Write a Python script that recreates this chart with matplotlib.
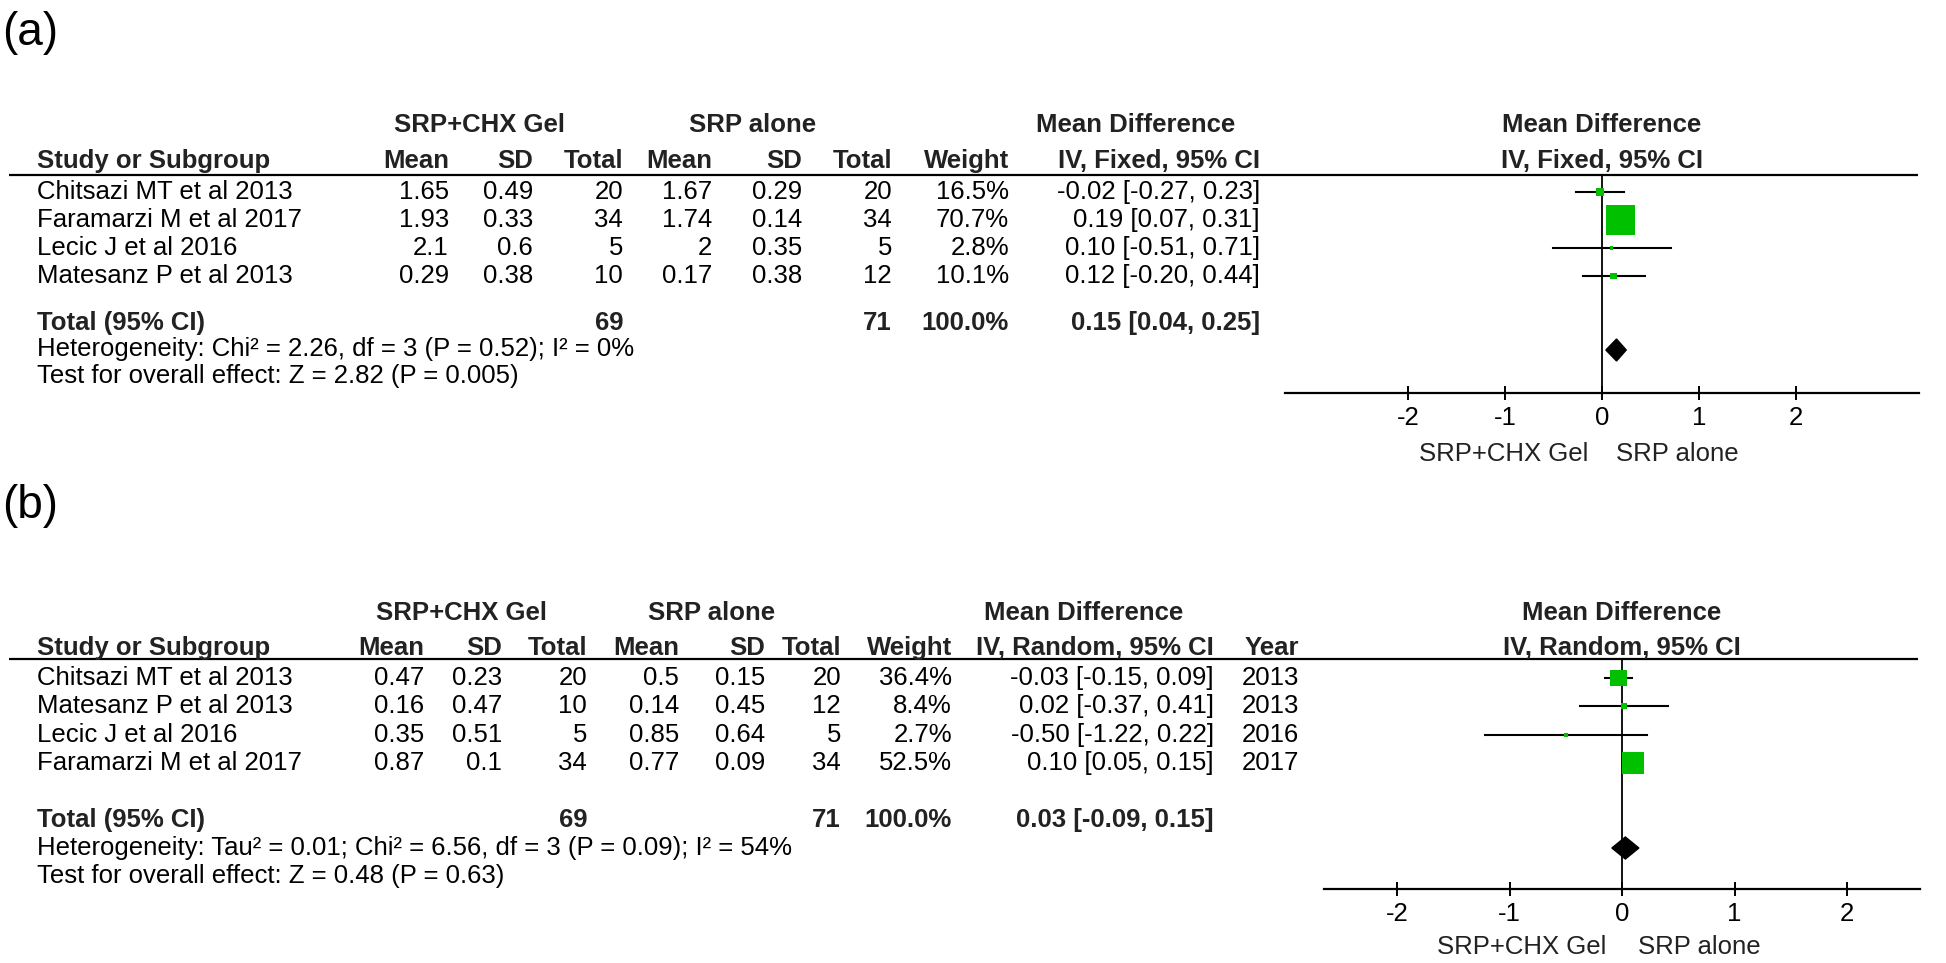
import matplotlib
matplotlib.use("Agg")
import matplotlib.pyplot as plt
from matplotlib.patches import Rectangle, Polygon

plt.rcParams['font.family'] = ['Liberation Sans', 'DejaVu Sans']

W, H = 1946, 963
FS = 18.5
GREEN = '#00c000'

# ---- panel (a) data: fixed effect ----
studies_a = ["Chitsazi MT et al 2013", "Faramarzi M et al 2017", "Lecic J et al 2016", "Matesanz P et al 2013"]
chx_mean_a = [1.65, 1.93, 2.1, 0.29]
chx_sd_a = [0.49, 0.33, 0.6, 0.38]
chx_n_a = [20, 34, 5, 10]
srp_mean_a = [1.67, 1.74, 2, 0.17]
srp_sd_a = [0.29, 0.14, 0.35, 0.38]
srp_n_a = [20, 34, 5, 12]
weight_a = [16.5, 70.7, 2.8, 10.1]
md_a = [-0.02, 0.19, 0.10, 0.12]
lo_a = [-0.27, 0.07, -0.51, -0.20]
hi_a = [0.23, 0.31, 0.71, 0.44]
total_n_a = [69, 71]
total_weight_a = 100.0
total_md_a = [0.15, 0.04, 0.25]
het_a = "Heterogeneity: Chi² = 2.26, df = 3 (P = 0.52); I² = 0%"
test_a = "Test for overall effect: Z = 2.82 (P = 0.005)"

# ---- panel (b) data: random effects ----
studies_b = ["Chitsazi MT et al 2013", "Matesanz P et al 2013", "Lecic J et al 2016", "Faramarzi M et al 2017"]
chx_mean_b = [0.47, 0.16, 0.35, 0.87]
chx_sd_b = [0.23, 0.47, 0.51, 0.1]
chx_n_b = [20, 10, 5, 34]
srp_mean_b = [0.5, 0.14, 0.85, 0.77]
srp_sd_b = [0.15, 0.45, 0.64, 0.09]
srp_n_b = [20, 12, 5, 34]
weight_b = [36.4, 8.4, 2.7, 52.5]
md_b = [-0.03, 0.02, -0.50, 0.10]
lo_b = [-0.15, -0.37, -1.22, 0.05]
hi_b = [0.09, 0.41, 0.22, 0.15]
years_b = [2013, 2013, 2016, 2017]
total_n_b = [69, 71]
total_weight_b = 100.0
total_md_b = [0.03, -0.09, 0.15]
het_b = "Heterogeneity: Tau² = 0.01; Chi² = 6.56, df = 3 (P = 0.09); I² = 54%"
test_b = "Test for overall effect: Z = 0.48 (P = 0.63)"

ticks = [-2, -1, 0, 1, 2]
group1, group2 = "SRP+CHX Gel", "SRP alone"

fig = plt.figure(figsize=(W / 100, H / 100), dpi=100)
bg = fig.add_axes([0, 0, 1, 1])
bg.set_xlim(0, W)
bg.set_ylim(H, 0)
bg.axis('off')


def txt(x, y, s, ha='right', bold=False):
    bg.text(x, y, s, ha=ha, va='center', fontsize=FS,
            fontweight='bold' if bold else 'normal',
            color='#222222' if bold else 'black')


def panel(tag, lay, method, studies, m1, s1, n1, m2, s2, n2, wt, md, lo, hi,
          tot_n, tot_w, tot_md, het, test, years=None):
    r = lay['right']
    bg.text(2, lay['label_y'], tag, ha='left', va='center', fontsize=33)
    # group headers
    txt(lay['g1'], lay['grp_y'], group1, ha='center', bold=True)
    txt(lay['g2'], lay['grp_y'], group2, ha='center', bold=True)
    txt(lay['g3'], lay['grp_y'], "Mean Difference", ha='center', bold=True)
    # column headers
    txt(37, lay['hdr_y'], "Study or Subgroup", ha='left', bold=True)
    heads = ["Mean", "SD", "Total", "Mean", "SD", "Total", "Weight", f"IV, {method}, 95% CI"]
    for x, h in zip(r, heads):
        txt(x, lay['hdr_y'], h, bold=True)
    if years is not None:
        txt(lay['year'], lay['hdr_y'], "Year", bold=True)
    bg.hlines(lay['rule_y'], 9, 1918, color='black', lw=1.6)
    # study rows
    for i, y in enumerate(lay['rows']):
        cells = [f"{m1[i]:g}", f"{s1[i]:g}", f"{n1[i]}", f"{m2[i]:g}", f"{s2[i]:g}",
                 f"{n2[i]}", f"{wt[i]:.1f}%", f"{md[i]:.2f} [{lo[i]:.2f}, {hi[i]:.2f}]"]
        txt(37, y, studies[i], ha='left')
        for x, c in zip(r, cells):
            txt(x, y, c)
        if years is not None:
            txt(lay['year'], y, f"{years[i]}")
    # total row
    ty = lay['tot_y']
    txt(37, ty, "Total (95% CI)", ha='left', bold=True)
    txt(r[2], ty, f"{tot_n[0]}", bold=True)
    txt(r[5], ty, f"{tot_n[1]}", bold=True)
    txt(r[6], ty, f"{tot_w:.1f}%", bold=True)
    txt(r[7], ty, f"{tot_md[0]:.2f} [{tot_md[1]:.2f}, {tot_md[2]:.2f}]", bold=True)
    txt(37, lay['het_y'], het, ha='left')
    txt(37, lay['test_y'], test, ha='left')

    # forest plot axes: x in mean-difference units, y in pixel rows
    x0, x1 = 1270, W
    y0, y1 = lay['grp_y'] - 20, lay['dir_y'] + 20
    zero, unit = lay['zero'], lay['unit']
    ax = fig.add_axes([x0 / W, 1 - y1 / H, (x1 - x0) / W, (y1 - y0) / H])
    ax.set_xlim((x0 - zero) / unit, (x1 - zero) / unit)
    ax.set_ylim(y1, y0)
    ax.patch.set_visible(False)
    for s in ['left', 'right', 'top']:
        ax.spines[s].set_visible(False)
    ax.spines['bottom'].set_position(('data', lay['axis_y']))
    ax.spines['bottom'].set_bounds(-lay['span'], lay['span'])
    ax.spines['bottom'].set_linewidth(1.6)
    ax.set_yticks([])
    ax.set_xticks(ticks)
    ax.set_xticklabels([f"{t}" for t in ticks], fontsize=FS)
    ax.tick_params(axis='x', direction='inout', length=10, width=1.4, pad=4)

    ax.text(0, lay['grp_y'], "Mean Difference", ha='center', va='center',
            fontsize=FS, fontweight='bold', color='#222222')
    ax.text(0, lay['hdr_y'], f"IV, {method}, 95% CI", ha='center', va='center',
            fontsize=FS, fontweight='bold', color='#222222')
    ax.plot([0, 0], [lay['rule_y'], lay['axis_y']], color='black', lw=1.3)

    for i, y in enumerate(lay['rows']):
        ax.plot([lo[i], hi[i]], [y, y], color='black', lw=1.5, zorder=2)
        side = 2.5 + 0.38 * wt[i]
        ax.add_patch(Rectangle((md[i] - side / 2 / unit, y - side / 2), side / unit, side,
                               facecolor=GREEN, edgecolor='none', zorder=3))
    hd = 11
    dy = lay['dia_y']
    ax.add_patch(Polygon([(tot_md[1], dy), (tot_md[0], dy - hd), (tot_md[2], dy), (tot_md[0], dy + hd)],
                         closed=True, facecolor='black', edgecolor='black', zorder=3))
    ax.text(-0.14, lay['dir_y'], group1, ha='right', va='center', fontsize=FS, color='#222222')
    ax.text(0.14, lay['dir_y'], group2, ha='left', va='center', fontsize=FS, color='#222222')


lay_a = dict(label_y=33, grp_y=125, hdr_y=161, rule_y=175, rows=[192, 220, 248, 276],
             tot_y=323, dia_y=350, het_y=349, test_y=376, axis_y=393, dir_y=454,
             right=[449, 533, 623, 712, 802, 892, 1009, 1260],
             g1=480, g2=753, g3=1136, zero=1602, unit=96.9, span=3.27)
lay_b = dict(label_y=506, grp_y=613, hdr_y=648, rule_y=659, rows=[678, 706, 735, 763],
             tot_y=820, dia_y=848, het_y=848, test_y=876, axis_y=889, dir_y=947,
             right=[424, 502, 587, 679, 765, 841, 952, 1214], year=1299,
             g1=462, g2=712, g3=1084, zero=1622, unit=112.5, span=2.65)

panel("(a)", lay_a, "Fixed", studies_a, chx_mean_a, chx_sd_a, chx_n_a, srp_mean_a, srp_sd_a,
      srp_n_a, weight_a, md_a, lo_a, hi_a, total_n_a, total_weight_a, total_md_a, het_a, test_a)
panel("(b)", lay_b, "Random", studies_b, chx_mean_b, chx_sd_b, chx_n_b, srp_mean_b, srp_sd_b,
      srp_n_b, weight_b, md_b, lo_b, hi_b, total_n_b, total_weight_b, total_md_b, het_b, test_b,
      years=years_b)

fig.savefig("out.png", dpi=100)
